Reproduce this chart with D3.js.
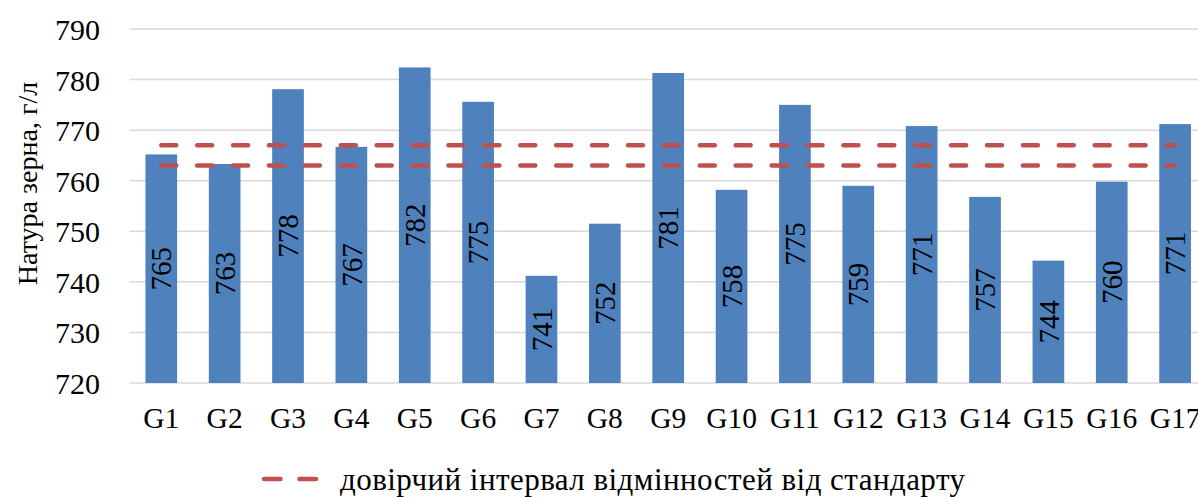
<!DOCTYPE html>
<html><head><meta charset="utf-8">
<script src="https://cdn.jsdelivr.net/npm/d3@7"></script>
<style>body{margin:0;background:#fff;overflow:hidden}svg{display:block}</style>
</head><body><svg id="c" width="1198" height="497" font-family="Liberation Serif"></svg>
<script>
const categories = ["G1","G2","G3","G4","G5","G6","G7","G8","G9","G10","G11","G12","G13","G14","G15","G16","G17"];
const values = [765.2,763.3,778.1,766.7,782.4,775.6,741.2,751.5,781.3,758.2,775.0,759.0,770.8,756.8,744.2,759.8,771.2];
const valueLabels = ["765","763","778","767","782","775","741","752","781","758","775","759","771","757","744","760","771"];
const upperLimit = categories.map(() => 767);
const lowerLimit = categories.map(() => 763);
const yTicks = [720,730,740,750,760,770,780,790];
const yTitle = "Натура зерна, г/л";
const legendText = "довірчий інтервал відмінностей від стандарту";

const FF = "Liberation Serif";
const svg = d3.select("#c");
const pL = 129.6, pR = 1206.8, pT = 29, pB = 383;
const x = d3.scaleBand().domain(categories).range([pL, pR]).paddingInner(0.5).paddingOuter(0.25);
const y = d3.scaleLinear().domain([720, 790]).range([pB, pT]);

// gridlines
svg.append("g").selectAll("line").data(yTicks).join("line")
  .attr("x1", pL).attr("x2", pR)
  .attr("y1", d => y(d)).attr("y2", d => y(d))
  .attr("stroke", "#d9d9d9").attr("stroke-width", 1.5);

// y axis
const yAxis = svg.append("g").attr("transform", `translate(${pL},0)`)
  .call(d3.axisLeft(y).tickValues(yTicks).tickSize(0).tickPadding(29.6));
yAxis.attr("font-family", FF).attr("font-size", 30);
yAxis.select(".domain").remove();
yAxis.selectAll("text").attr("font-family", FF).attr("font-size", 30).attr("fill", "#000").attr("dy", "0.35em");

// x axis
const xAxis = svg.append("g").attr("transform", `translate(0,${pB})`)
  .call(d3.axisBottom(x).tickSize(0).tickPadding(24.5));
xAxis.attr("font-family", FF).attr("font-size", 29.5);
xAxis.select(".domain").remove();
xAxis.selectAll("text").attr("font-family", FF).attr("font-size", 29.5).attr("fill", "#000");

// bars
svg.append("g").selectAll("rect").data(values).join("rect")
  .attr("x", (d, i) => x(categories[i]))
  .attr("width", x.bandwidth())
  .attr("y", d => y(d))
  .attr("height", d => y(720) - y(d))
  .attr("fill", "#4f81bd");

// value labels
svg.append("g").selectAll("text").data(values).join("text")
  .attr("transform", (d, i) => `translate(${x(categories[i]) + x.bandwidth()/2},${(y(d) + y(720))/2}) rotate(-90)`)
  .attr("text-anchor", "middle").attr("dy", "0.35em")
  .attr("font-family", FF).attr("font-size", 29).attr("fill", "#000")
  .text((d, i) => valueLabels[i]);

// interval lines
const line = d3.line().x((d, i) => x(categories[i]) + x.bandwidth()/2).y(d => y(d));
[upperLimit, lowerLimit].forEach(arr => {
  svg.append("path").datum(arr).attr("d", line)
    .attr("fill", "none").attr("stroke", "#c0504d").attr("stroke-width", 4.5)
    .attr("stroke-linecap", "round").attr("stroke-dasharray", "15,20.9");
});

// y title
svg.append("text").attr("transform", `translate(37,183.5) rotate(-90)`)
  .attr("text-anchor", "middle")
  .attr("font-family", FF).attr("font-size", 28).attr("fill", "#000").text(yTitle);

// legend
svg.append("line").attr("x1", 264).attr("x2", 316).attr("y1", 479).attr("y2", 479)
  .attr("stroke", "#c0504d").attr("stroke-width", 4.5).attr("stroke-linecap", "round").attr("stroke-dasharray", "16.5,19");
svg.append("text").attr("x", 340).attr("y", 490)
  .attr("textLength", 625).attr("lengthAdjust", "spacing")
  .attr("font-family", FF).attr("font-size", 31).attr("fill", "#000").text(legendText);
</script></body></html>
